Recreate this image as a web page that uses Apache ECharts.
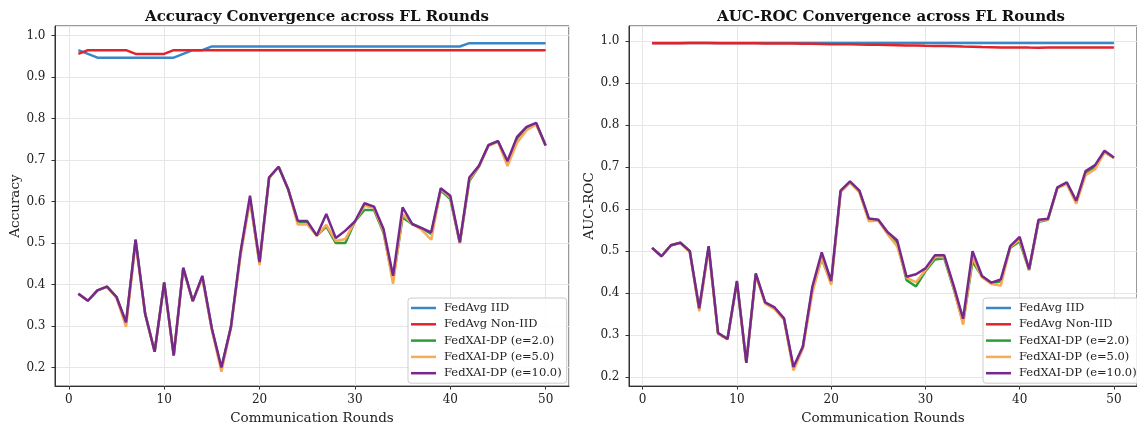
<!DOCTYPE html>
<html>
<head>
<meta charset="utf-8">
<title>FL Convergence</title>
<script src="https://cdn.jsdelivr.net/npm/echarts@6/dist/echarts.min.js"></script>
<style>
  html, body { margin: 0; padding: 0; background: #ffffff; }
  #chart { width: 1137px; height: 430px; }
</style>
</head>
<body>
<div id="chart"></div>
<script>
// Communication rounds (x values)
const rounds = [1,2,3,4,5,6,7,8,9,10,11,12,13,14,15,16,17,18,19,20,21,22,23,24,25,
                26,27,28,29,30,31,32,33,34,35,36,37,38,39,40,41,42,43,44,45,46,47,48,49,50];

const seriesNames = ['FedAvg IID', 'FedAvg Non-IID', 'FedXAI-DP (e=2.0)', 'FedXAI-DP (e=5.0)', 'FedXAI-DP (e=10.0)'];
const seriesColors = ['#3b86c6', '#e0242b', '#2a9d3a', '#f9aa55', '#76288c'];

// Accuracy per round
const accFedAvgIID = [0.965,0.956,0.947,0.947,0.947,0.947,0.947,0.947,0.947,0.947,
                      0.947,0.956,0.965,0.965,0.974,0.974,0.974,0.974,0.974,0.974,
                      0.974,0.974,0.974,0.974,0.974,0.974,0.974,0.974,0.974,0.974,
                      0.974,0.974,0.974,0.974,0.974,0.974,0.974,0.974,0.974,0.974,
                      0.974,0.982,0.982,0.982,0.982,0.982,0.982,0.982,0.982,0.982];
const accFedAvgNonIID = [0.956,0.965,0.965,0.965,0.965,0.965,0.956,0.956,0.956,0.956,
                         0.965,0.965,0.965,0.965,0.965,0.965,0.965,0.965,0.965,0.965,
                         0.965,0.965,0.965,0.965,0.965,0.965,0.965,0.965,0.965,0.965,
                         0.965,0.965,0.965,0.965,0.965,0.965,0.965,0.965,0.965,0.965,
                         0.965,0.965,0.965,0.965,0.965,0.965,0.965,0.965,0.965,0.965];
const accDpE2 = [0.378,0.361,0.386,0.395,0.370,0.307,0.508,0.330,0.238,0.405,
                 0.229,0.440,0.360,0.419,0.293,0.198,0.298,0.474,0.605,0.452,
                 0.658,0.684,0.630,0.550,0.550,0.518,0.540,0.500,0.500,0.552,
                 0.580,0.580,0.525,0.410,0.562,0.546,0.536,0.522,0.627,0.606,
                 0.500,0.650,0.684,0.736,0.746,0.694,0.752,0.778,0.788,0.735];
const accDpE5 = [0.378,0.361,0.386,0.395,0.368,0.298,0.500,0.330,0.238,0.403,
                 0.229,0.438,0.360,0.416,0.290,0.190,0.296,0.468,0.605,0.447,
                 0.656,0.684,0.630,0.545,0.545,0.518,0.544,0.505,0.510,0.552,
                 0.590,0.585,0.528,0.402,0.570,0.546,0.532,0.508,0.630,0.610,
                 0.500,0.654,0.684,0.734,0.744,0.686,0.742,0.772,0.786,0.735];
const accDpE10 = [0.378,0.361,0.386,0.395,0.370,0.309,0.508,0.330,0.238,0.405,
                  0.229,0.440,0.360,0.421,0.294,0.200,0.298,0.478,0.614,0.454,
                  0.658,0.684,0.630,0.554,0.553,0.518,0.570,0.512,0.530,0.552,
                  0.596,0.588,0.534,0.421,0.586,0.546,0.536,0.526,0.632,0.614,
                  0.502,0.658,0.686,0.736,0.746,0.698,0.756,0.780,0.790,0.735];

// AUC-ROC per round
const aucFedAvgIID = [0.996,0.996,0.996,0.996,0.996,0.996,0.996,0.996,0.996,0.996,
                      0.996,0.996,0.996,0.996,0.996,0.996,0.996,0.996,0.996,0.996,
                      0.996,0.996,0.996,0.996,0.996,0.996,0.996,0.996,0.996,0.996,
                      0.996,0.996,0.996,0.996,0.996,0.996,0.996,0.996,0.996,0.996,
                      0.996,0.996,0.996,0.996,0.996,0.996,0.996,0.996,0.996,0.996];
const aucFedAvgNonIID = [0.9950,0.9950,0.9951,0.9953,0.9955,0.9955,0.9955,0.9953,0.9952,0.9950,
                         0.9950,0.9950,0.9948,0.9948,0.9945,0.9945,0.9942,0.9940,0.9935,0.9930,
                         0.9928,0.9925,0.9920,0.9918,0.9915,0.9910,0.9905,0.9900,0.9895,0.9890,
                         0.9888,0.9885,0.9880,0.9872,0.9868,0.9862,0.9858,0.9850,0.9848,0.9852,
                         0.9848,0.9845,0.9850,0.9850,0.9850,0.9850,0.9850,0.9848,0.9848,0.9848];
const aucDpE2 = [0.508,0.488,0.514,0.520,0.500,0.362,0.510,0.305,0.291,0.427,
                 0.234,0.445,0.377,0.364,0.338,0.220,0.272,0.408,0.482,0.424,
                 0.642,0.664,0.642,0.575,0.574,0.542,0.520,0.431,0.416,0.452,
                 0.480,0.483,0.410,0.330,0.475,0.440,0.424,0.428,0.508,0.523,
                 0.455,0.570,0.575,0.650,0.662,0.616,0.686,0.700,0.737,0.722];
const aucDpE5 = [0.508,0.488,0.514,0.520,0.498,0.357,0.505,0.303,0.290,0.424,
                 0.234,0.443,0.375,0.362,0.336,0.216,0.268,0.400,0.485,0.420,
                 0.640,0.664,0.640,0.571,0.573,0.540,0.512,0.437,0.426,0.455,
                 0.486,0.487,0.412,0.325,0.485,0.438,0.422,0.418,0.510,0.528,
                 0.455,0.572,0.576,0.650,0.660,0.613,0.681,0.695,0.735,0.722];
const aucDpE10 = [0.508,0.488,0.514,0.520,0.500,0.364,0.512,0.305,0.291,0.429,
                  0.234,0.447,0.378,0.366,0.340,0.224,0.273,0.415,0.497,0.429,
                  0.644,0.666,0.644,0.578,0.575,0.545,0.526,0.439,0.445,0.459,
                  0.490,0.490,0.418,0.339,0.500,0.441,0.425,0.433,0.512,0.534,
                  0.457,0.575,0.577,0.652,0.664,0.620,0.691,0.705,0.739,0.723];

const accSets = [accFedAvgIID, accFedAvgNonIID, accDpE2, accDpE5, accDpE10];
const aucSets = [aucFedAvgIID, aucFedAvgNonIID, aucDpE2, aucDpE5, aucDpE10];

const FONT = 'DejaVu Serif';
const INK = '#222222';

function pairs(values) {
  return rounds.map((r, i) => [r, values[i]]);
}

function makeXAxis(gridIndex) {
  return {
    type: 'value', gridIndex: gridIndex,
    min: -1.45, max: 52.45, splitNumber: 5,
    name: 'Communication Rounds', nameLocation: 'middle', nameGap: 24,
    nameTextStyle: { fontFamily: FONT, fontSize: 13.5, color: INK },
    axisLine: { show: true, onZero: false, lineStyle: { color: '#333', width: 1 } },
    axisTick: { show: true, length: 3.5, lineStyle: { color: '#333', width: 1 } },
    axisLabel: { fontFamily: FONT, fontSize: 12, color: INK, margin: 8,
                 showMinLabel: false, showMaxLabel: false },
    splitLine: { show: true, lineStyle: { color: '#e6e6e6', width: 1 } }
  };
}

function makeYAxis(gridIndex, name, min, max) {
  return {
    type: 'value', gridIndex: gridIndex,
    min: min, max: max, splitNumber: 8,
    name: name, nameLocation: 'middle', nameGap: 33,
    nameTextStyle: { fontFamily: FONT, fontSize: 13.5, color: INK },
    axisLine: { show: true, onZero: false, lineStyle: { color: '#333', width: 1 } },
    axisTick: { show: true, length: 3.5, lineStyle: { color: '#333', width: 1 } },
    axisLabel: { fontFamily: FONT, fontSize: 12, color: INK, margin: 9.5,
                 showMinLabel: false, showMaxLabel: false,
                 formatter: v => v.toFixed(1) },
    splitLine: { show: true, lineStyle: { color: '#e6e6e6', width: 1 } }
  };
}

function makeLegend(left) {
  return {
    left: left, top: 298, orient: 'vertical',
    data: seriesNames,
    icon: 'path://M0,0 H25 V2.5 H0 Z',
    itemWidth: 25, itemHeight: 14, itemGap: 2.3,
    padding: [3, 5, 3, 3],
    backgroundColor: 'rgba(255,255,255,0.85)',
    borderColor: '#cccccc', borderWidth: 1, borderRadius: 3,
    selectedMode: false,
    textStyle: { fontFamily: FONT, fontSize: 11.5, color: INK, lineHeight: 14, padding: [0, 0, 0, 3] }
  };
}

function makeSeries(sets, axisIndex) {
  return sets.map((vals, i) => ({
    name: seriesNames[i], type: 'line',
    xAxisIndex: axisIndex, yAxisIndex: axisIndex,
    data: pairs(vals),
    symbol: 'none', showSymbol: false,
    color: seriesColors[i],
    lineStyle: { width: 2.5, color: seriesColors[i] },
    z: 2 + i
  }));
}

const chart = echarts.init(document.getElementById('chart'), null, { renderer: 'canvas' });
chart.setOption({
  animation: false,
  backgroundColor: '#ffffff',
  title: [
    { text: 'Accuracy Convergence across FL Rounds', left: 312, top: 5, textAlign: 'center',
      textStyle: { fontFamily: FONT, fontSize: 15, fontWeight: 'bold', color: '#111' } },
    { text: 'AUC-ROC Convergence across FL Rounds', left: 886, top: 5, textAlign: 'center',
      textStyle: { fontFamily: FONT, fontSize: 15, fontWeight: 'bold', color: '#111' } }
  ],
  grid: [
    { left: 55, top: 26, width: 514, height: 362, show: true, borderColor: '#333', borderWidth: 1, backgroundColor: 'transparent' },
    { left: 629, top: 26, width: 514.5, height: 362, show: true, borderColor: '#333', borderWidth: 1, backgroundColor: 'transparent' }
  ],
  xAxis: [makeXAxis(0), makeXAxis(1)],
  yAxis: [makeYAxis(0, 'Accuracy', 0.1552, 1.0233), makeYAxis(1, 'AUC-ROC', 0.1787, 1.0362)],
  legend: [makeLegend(408), makeLegend(983)],
  series: makeSeries(accSets, 0).concat(makeSeries(aucSets, 1))
});
</script>
</body>
</html>
